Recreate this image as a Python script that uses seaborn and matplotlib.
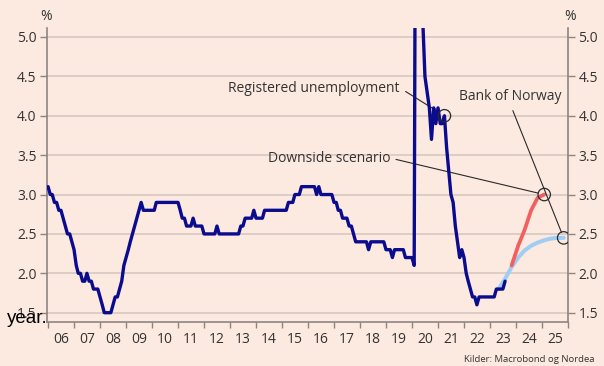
import numpy as np
import pandas as pd
import matplotlib
matplotlib.use("Agg")
import matplotlib.pyplot as plt
import matplotlib.dates as mdates
import seaborn as sns

# Registered unemployment, % of labour force, monthly from January 2006
unemployment = [
    3.1, 3.0, 3.0, 2.9, 2.9, 2.8, 2.8, 2.7, 2.6, 2.5, 2.5, 2.4,   # 2006
    2.3, 2.1, 2.0, 2.0, 1.9, 1.9, 2.0, 1.9, 1.9, 1.8, 1.8, 1.8,   # 2007
    1.7, 1.6, 1.5, 1.5, 1.5, 1.5, 1.6, 1.7, 1.7, 1.8, 1.9, 2.1,   # 2008
    2.2, 2.3, 2.4, 2.5, 2.6, 2.7, 2.8, 2.9, 2.8, 2.8, 2.8, 2.8,   # 2009
    2.8, 2.8, 2.9, 2.9, 2.9, 2.9, 2.9, 2.9, 2.9, 2.9, 2.9, 2.9,   # 2010
    2.9, 2.8, 2.7, 2.7, 2.6, 2.6, 2.6, 2.7, 2.6, 2.6, 2.6, 2.6,   # 2011
    2.5, 2.5, 2.5, 2.5, 2.5, 2.5, 2.6, 2.5, 2.5, 2.5, 2.5, 2.5,   # 2012
    2.5, 2.5, 2.5, 2.5, 2.5, 2.6, 2.6, 2.7, 2.7, 2.7, 2.7, 2.8,   # 2013
    2.7, 2.7, 2.7, 2.7, 2.8, 2.8, 2.8, 2.8, 2.8, 2.8, 2.8, 2.8,   # 2014
    2.8, 2.8, 2.8, 2.9, 2.9, 2.9, 3.0, 3.0, 3.0, 3.1, 3.1, 3.1,   # 2015
    3.1, 3.1, 3.1, 3.1, 3.0, 3.1, 3.0, 3.0, 3.0, 3.0, 3.0, 3.0,   # 2016
    2.9, 2.9, 2.8, 2.8, 2.7, 2.7, 2.7, 2.6, 2.6, 2.5, 2.4, 2.4,   # 2017
    2.4, 2.4, 2.4, 2.4, 2.3, 2.4, 2.4, 2.4, 2.4, 2.4, 2.4, 2.4,   # 2018
    2.3, 2.3, 2.3, 2.2, 2.3, 2.3, 2.3, 2.3, 2.3, 2.2, 2.2, 2.2,   # 2019
    2.2, 2.1, 10.4, 10.7, 7.5, 5.2, 4.5, 4.3, 4.1, 3.7, 4.1, 3.9, # 2020
    4.1, 3.9, 3.9, 4.0, 3.6, 3.3, 3.0, 2.9, 2.6, 2.4, 2.2, 2.3,   # 2021
    2.2, 2.0, 1.9, 1.8, 1.7, 1.7, 1.6, 1.7, 1.7, 1.7, 1.7, 1.7,   # 2022
    1.7, 1.7, 1.7, 1.8, 1.8, 1.8, 1.8, 1.9,                       # 2023
]

# Bank of Norway projection (quarterly)
norges_bank_dates = ["2023-05-01", "2023-08-01", "2023-11-01", "2024-02-01",
                     "2024-05-01", "2024-08-01", "2024-11-01", "2025-02-01",
                     "2025-05-01", "2025-08-01", "2025-11-01"]
norges_bank = [1.80, 1.93, 2.08, 2.20, 2.29, 2.35, 2.39, 2.42, 2.44, 2.45, 2.45]

# Downside scenario (quarterly)
downside_dates = ["2023-11-01", "2024-02-01", "2024-05-01", "2024-08-01",
                  "2024-11-01", "2025-02-01"]
downside = [2.10, 2.35, 2.55, 2.80, 2.96, 3.00]

year_labels = ["06", "07", "08", "09", "10", "11", "12", "13", "14", "15",
               "16", "17", "18", "19", "20", "21", "22", "23", "24", "25"]
y_ticks = [1.5, 2.0, 2.5, 3.0, 3.5, 4.0, 4.5, 5.0]

BG = "#fce9e0"
NAVY = "#0b0b8e"
RED = "#f25f5f"
LIGHT_BLUE = "#9fcdf3"
GRID = "#d6c9c2"
SPINE = "#8e8580"
TEXT = "#333333"

sns.set_theme(style="white", rc={
    "axes.facecolor": BG,
    "figure.facecolor": BG,
    "savefig.facecolor": BG,
})
plt.rcParams["font.family"] = ["Open Sans", "DejaVu Sans"]

actual = pd.DataFrame({
    "date": pd.date_range("2006-01-01", periods=len(unemployment), freq="MS"),
    "value": unemployment,
})
nb = pd.DataFrame({"date": pd.to_datetime(norges_bank_dates), "value": norges_bank})
down = pd.DataFrame({"date": pd.to_datetime(downside_dates), "value": downside})

fig = plt.figure(figsize=(6.04, 3.66), dpi=100)
ax = fig.add_axes([47 / 604, 1 - 322 / 366, 521 / 604, 294 / 366])

sns.lineplot(data=nb, x="date", y="value", ax=ax, color=LIGHT_BLUE, lw=2.9,
             zorder=2, solid_capstyle="round")
sns.lineplot(data=down, x="date", y="value", ax=ax, color=RED, lw=2.7,
             zorder=3, solid_capstyle="round")
sns.lineplot(data=actual, x="date", y="value", ax=ax, color=NAVY, lw=2.4,
             zorder=4)

# Hollow circles marking the annotated points
i_reg = actual.index[actual["date"] == pd.Timestamp("2021-04-01")][0]
pt_reg = (mdates.date2num(actual["date"][i_reg]), actual["value"][i_reg])
pt_down = (mdates.date2num(down["date"].iloc[-1]), down["value"].iloc[-1])
pt_nb = (mdates.date2num(nb["date"].iloc[-1]), nb["value"].iloc[-1])
for x, y in (pt_reg, pt_down, pt_nb):
    ax.scatter([x], [y], s=80, facecolors="none", edgecolors="#2a2a2a",
               linewidths=0.9, zorder=6)

ax.set_xlim(pd.Timestamp("2005-12-17"), pd.Timestamp("2026-01-01"))
ax.set_ylim(1.382, 5.114)
ax.set_xlabel("")
ax.set_ylabel("")

# x axis: year boundaries as ticks, two-digit year labels centred in each year
ax.xaxis.set_major_locator(mdates.YearLocator())
ax.xaxis.set_major_formatter(plt.NullFormatter())
mid_years = [pd.Timestamp(f"20{lab}-07-02") for lab in year_labels]
ax.set_xticks(mid_years, minor=True)
ax.set_xticklabels(year_labels, minor=True)
ax.tick_params(axis="x", which="major", direction="out", length=4, width=1,
               color=SPINE, bottom=True)
ax.tick_params(axis="x", which="minor", length=0, pad=7, labelsize=10,
               labelcolor=TEXT)

ax.set_yticks(y_ticks)
ax.set_yticklabels([f"{v:.1f}" for v in y_ticks])
ax.tick_params(axis="y", which="major", direction="out", length=5, width=1,
               color=SPINE, left=True, right=True, labelleft=True,
               labelright=True, labelsize=10, labelcolor=TEXT, pad=2.5)

ax.yaxis.grid(True, color=GRID, lw=1.2)
ax.xaxis.grid(False)
ax.set_axisbelow(True)
for side in ("left", "right", "bottom"):
    ax.spines[side].set_visible(True)
    ax.spines[side].set_color(SPINE)
    ax.spines[side].set_linewidth(1.2)
ax.spines["top"].set_visible(False)

fig.text(46.5 / 604, 1 - 17 / 366, "%", ha="center", va="center",
         fontsize=10, color=TEXT)
fig.text(570 / 604, 1 - 17 / 366, "%", ha="center", va="center",
         fontsize=10, color=TEXT)

line_kw = dict(arrowstyle="-", color="#2a2a2a", lw=0.8)
ax.annotate("Registered unemployment", xy=pt_reg, xycoords="data",
            xytext=((400 - 47) / 521, (322 - 88) / 294),
            textcoords="axes fraction", ha="right", va="center",
            fontsize=10, color=TEXT,
            arrowprops=dict(**line_kw, relpos=(1, 0.5), shrinkA=2, shrinkB=4.5))
ax.annotate("Downside scenario", xy=pt_down, xycoords="data",
            xytext=((390 - 47) / 521, (322 - 158) / 294),
            textcoords="axes fraction", ha="right", va="center",
            fontsize=10, color=TEXT,
            arrowprops=dict(**line_kw, relpos=(1, 0.5), shrinkA=2, shrinkB=4.5))
ax.annotate("Bank of Norway", xy=pt_nb, xycoords="data",
            xytext=((510 - 47) / 521, (322 - 96) / 294),
            textcoords="axes fraction", ha="center", va="center",
            fontsize=10, color=TEXT,
            arrowprops=dict(**line_kw, relpos=(0.5, 0), shrinkA=3, shrinkB=4.5))

fig.text(595 / 604, 1 - 359 / 366, "Kilder: Macrobond og Nordea",
         ha="right", va="center", fontsize=6.8, color=TEXT)
fig.text(48 / 604, 1 - 323 / 366, "year.", ha="right", va="baseline",
         fontsize=13.5, color="black", family=["Liberation Sans", "DejaVu Sans"])

fig.savefig("out.png", dpi=100)
